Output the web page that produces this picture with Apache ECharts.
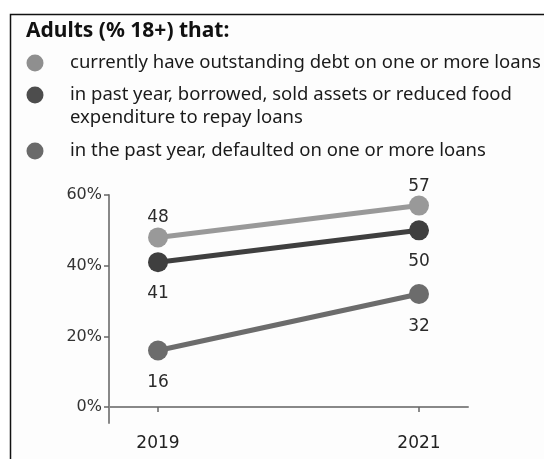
<!DOCTYPE html>
<html>
<head>
<meta charset="utf-8">
<script src="https://cdn.jsdelivr.net/npm/echarts@6/dist/echarts.min.js"></script>
<style>
  html, body { margin: 0; padding: 0; background: #fff; }
  #chart { width: 544px; height: 459px; }
</style>
</head>
<body>
<div id="chart"></div>
<script>
// Survey years and shares of adults (%)
const years = [2019, 2021];
const outstandingDebt = [48, 57];
const borrowedToRepay = [41, 50];
const defaulted = [16, 32];

const yTicks = [0, 20, 40, 60];
const titleText = 'Adults (% 18+) that:';
const legendLines = [
  ['currently have outstanding debt on one or more loans'],
  ['in past year, borrowed, sold assets or reduced food', 'expenditure to repay loans'],
  ['in the past year, defaulted on one or more loans']
];
const seriesColors = ['#999999', '#3f3f3f', '#6c6c6c'];
const legendColors = ['#8f8f8f', '#4d4d4d', '#6a6a6a'];

const TEXT_FONT = '"Noto Sans", "Open Sans", sans-serif';
const NUM_FONT = '"DejaVu Sans", sans-serif';

const chart = echarts.init(document.getElementById('chart'), null, { renderer: 'canvas' });

function pairs(vals) {
  return years.map((y, i) => [y, vals[i]]);
}

// Title, legend rows and the frame around the panel
const graphics = [
  {
    type: 'rect',
    shape: { x: 10.5, y: 14.5, width: 560, height: 470 },
    style: { fill: '#fdfdfd', stroke: '#111', lineWidth: 1.5 },
    z: -10
  },
  {
    type: 'text',
    x: 26, y: 31,
    style: { text: titleText, font: 'bold 21px ' + TEXT_FONT, fill: '#111', verticalAlign: 'middle' }
  }
];
const rowY = [[63], [95, 118], [151]];
legendLines.forEach((lines, i) => {
  graphics.push({
    type: 'circle',
    shape: { cx: 35, cy: rowY[i][0], r: 8.5 },
    style: { fill: legendColors[i] }
  });
  lines.forEach((t, j) => {
    graphics.push({
      type: 'text',
      x: 70, y: rowY[i][j],
      style: { text: t, font: '18.5px ' + TEXT_FONT, fill: '#1a1a1a', verticalAlign: 'middle', align: 'left' }
    });
  });
});

function lineSeries(name, vals, color, pos, dist) {
  return {
    name: name,
    type: 'line',
    data: pairs(vals),
    symbol: 'circle',
    symbolSize: 20,
    lineStyle: { color: color, width: 5 },
    itemStyle: { color: color },
    label: {
      show: true,
      position: pos,
      distance: dist,
      color: '#2a2a2a',
      fontSize: 17,
      fontFamily: NUM_FONT,
      formatter: p => p.value[1]
    },
    emphasis: { disabled: true },
    animation: false
  };
}

chart.setOption({
  backgroundColor: '#fff',
  animation: false,
  graphic: graphics,
  grid: { left: 109, right: 76, top: 195, bottom: 36, containLabel: false },
  xAxis: {
    type: 'value',
    min: 2018.6245,
    max: 2021.3755,
    splitLine: { show: false },
    axisLine: { show: true, lineStyle: { color: '#888', width: 2 } },
    axisTick: { show: true, customValues: years, length: 5, lineStyle: { color: '#666', width: 1.5 } },
    axisLabel: {
      customValues: years,
      formatter: v => String(v),
      color: '#222', fontSize: 17, fontFamily: NUM_FONT, margin: 12
    }
  },
  yAxis: {
    type: 'value',
    min: -4.5,
    max: 60,
    splitLine: { show: false },
    axisLine: { show: true, lineStyle: { color: '#888', width: 2 } },
    axisTick: { show: true, customValues: yTicks, length: 5, lineStyle: { color: '#666', width: 1.5 } },
    axisLabel: {
      customValues: yTicks,
      formatter: v => v + '%',
      color: '#333', fontSize: 16, fontFamily: NUM_FONT, margin: 7
    }
  },
  series: [
    lineSeries('currently have outstanding debt on one or more loans', outstandingDebt, seriesColors[0], 'top', 1),
    lineSeries('in past year, borrowed, sold assets or reduced food expenditure to repay loans', borrowedToRepay, seriesColors[1], 'bottom', 13),
    lineSeries('in the past year, defaulted on one or more loans', defaulted, seriesColors[2], 'bottom', 14)
  ]
});
</script>
</body>
</html>
